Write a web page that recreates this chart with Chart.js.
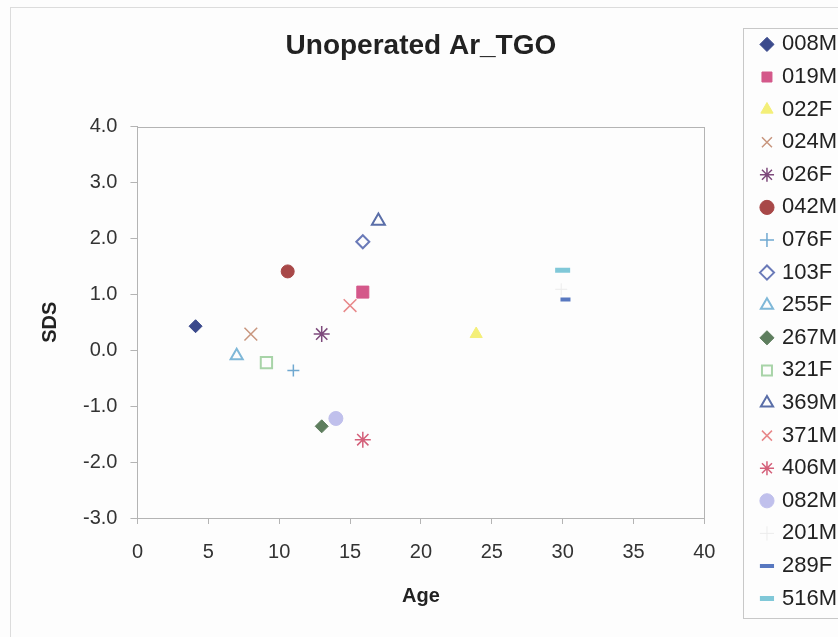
<!DOCTYPE html>
<html>
<head>
<meta charset="utf-8">
<script src="https://cdn.jsdelivr.net/npm/chart.js@4"></script>
<style>
  html, body { margin: 0; padding: 0; background: #fdfdfd; overflow: hidden; }
  #wrap { width: 838px; height: 637px; overflow: hidden; }
</style>
</head>
<body>
<div id="wrap"><canvas id="chart" width="847" height="637"></canvas></div>
<script>
// patients and their values
const patients = ['008M', '019M', '022F', '024M', '026F', '042M', '076F', '103F', '255F',
                  '267M', '321F', '369M', '371M', '406M', '082M', '201M', '289F', '516M'];
const ages = [4.1, 15.9, 23.9, 8.0, 13.0, 10.6, 11.0, 15.9, 7.0,
              13.0, 9.1, 17.0, 15.0, 15.9, 14.0, 29.9, 30.2, 30.0];
const sds = [0.43, 1.04, 0.29, 0.29, 0.29, 1.41, -0.36, 1.94, -0.10,
             -1.36, -0.22, 2.31, 0.80, -1.60, -1.22, 1.09, 0.91, 1.43];
const xTicks = [0, 5, 10, 15, 20, 25, 30, 35, 40];
const yTicks = [-3, -2, -1, 0, 1, 2, 3, 4];

// marker look per series (Excel style)
const markers = ['rectRot', 'rect', 'triangle', 'crossRot', 'star', 'circle', 'cross', 'rectRot', 'triangle',
                 'rectRot', 'rect', 'triangle', 'crossRot', 'star', 'circle', 'cross', 'line', 'line'];
const colors = ['#3b4a8c', '#d4588a', '#f4ef78', '#c8967e', '#7e4a7c', '#a84848', '#6fa8d0', '#6a7ab8', '#7fb8d8',
                '#5e7e5e', '#a8d4a8', '#5a6ea8', '#e8888a', '#d4607a', '#c0c0ec', '#ececec', '#5878c0', '#80c8d8'];
const filled = [true, true, true, false, false, true, false, false, false,
                true, false, false, false, false, true, false, false, false];
const radii = [6.5, 8.5, 7, 9, 8, 6.5, 6, 6.5, 7, 6.5, 8, 7.5, 9, 8, 7, 6, 5, 7.5];
const widths = [1, 1, 1, 1.5, 1.5, 1, 1.5, 2, 2, 1, 2, 2, 1.5, 1.5, 1, 1, 4, 5];

const font = "'Liberation Sans', Arial, sans-serif";
const axisColor = '#b4b4b4';

const datasets = patients.map((name, i) => ({
    label: name,
    data: [{ x: ages[i], y: sds[i] }],
    pointStyle: markers[i],
    pointRadius: radii[i],
    pointHoverRadius: radii[i],
    backgroundColor: filled[i] ? colors[i] : 'rgba(0,0,0,0)',
    borderColor: colors[i],
    borderWidth: widths[i],
    pointBorderWidth: widths[i]
}));

// frame lines: outer chart border, plot box and legend box
const framePlugin = {
    id: 'frames',
    beforeDraw(chart) {
        const ctx = chart.ctx;
        ctx.save();
        ctx.fillStyle = '#fdfdfd';
        ctx.fillRect(0, 0, chart.width, chart.height);
        ctx.strokeStyle = '#dcdcdc';
        ctx.lineWidth = 1;
        ctx.strokeRect(10.5, 7.5, chart.width + 20, chart.height + 20);
        const lg = chart.legend;
        ctx.strokeStyle = '#c8c8c8';
        ctx.strokeRect(Math.round(lg.left) - 8.5, 28.5, 200, 590);
        ctx.restore();
    },
    afterDatasetsDraw(chart) {
        const {ctx, chartArea: a} = chart;
        ctx.save();
        ctx.strokeStyle = axisColor;
        ctx.lineWidth = 1;
        ctx.strokeRect(Math.round(a.left) + 0.5, Math.round(a.top) + 0.5,
                       Math.round(a.right - a.left), Math.round(a.bottom - a.top));
        ctx.restore();
    }
};

new Chart(document.getElementById('chart'), {
    type: 'scatter',
    data: { datasets },
    plugins: [framePlugin],
    options: {
        responsive: false,
        animation: false,
        events: [],
        layout: { padding: { top: 13, bottom: 7, left: 10, right: 0 } },
        plugins: {
            title: {
                display: true,
                text: 'Unoperated Ar_TGO',
                fullSize: false,
                color: '#222',
                font: { family: font, size: 28, weight: 'bold' },
                padding: { top: 16, bottom: 64 }
            },
            legend: {
                position: 'right',
                labels: {
                    usePointStyle: true,
                    boxWidth: 8,
                    boxHeight: 10,
                    padding: 10.6,
                    color: '#222',
                    font: { family: font, size: 22 }
                }
            },
            tooltip: { enabled: false }
        },
        scales: {
            x: {
                type: 'linear',
                min: 0,
                max: 40,
                afterBuildTicks: s => { s.ticks = xTicks.map(v => ({ value: v })); },
                ticks: { color: '#333', font: { family: font, size: 20 }, padding: 16 },
                grid: { drawOnChartArea: false, drawTicks: true, tickLength: 6, color: axisColor },
                border: { display: true, color: axisColor },
                title: {
                    display: true,
                    text: 'Age',
                    color: '#222',
                    font: { family: font, size: 20, weight: 'bold' },
                    padding: { top: 4, bottom: 22 }
                }
            },
            y: {
                type: 'linear',
                min: -3,
                max: 4,
                afterBuildTicks: s => { s.ticks = yTicks.map(v => ({ value: v })); },
                ticks: {
                    color: '#333',
                    font: { family: font, size: 20 },
                    padding: 13,
                    callback: v => v.toFixed(1)
                },
                grid: { drawOnChartArea: false, drawTicks: true, tickLength: 7, color: axisColor },
                border: { display: true, color: axisColor },
                title: {
                    display: true,
                    text: 'SDS',
                    color: '#222',
                    font: { family: font, size: 20, weight: 'bold' },
                    padding: { top: 28, bottom: 8 }
                }
            },
            gap: {
                type: 'linear',
                position: 'right',
                display: true,
                grid: { display: false },
                ticks: { display: false },
                border: { display: false },
                afterFit: s => { s.width = 48; }
            }
        }
    }
});
</script>
</body>
</html>
